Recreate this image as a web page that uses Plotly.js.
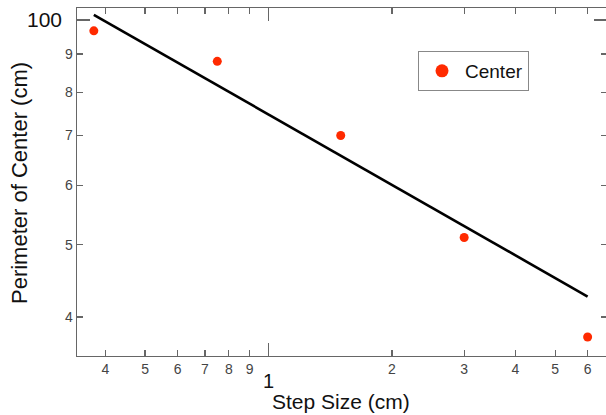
<!DOCTYPE html>
<html>
<head>
<meta charset="utf-8">
<script src="https://cdn.plot.ly/plotly-3.0.1.min.js"></script>
<style>html,body{margin:0;padding:0;overflow:hidden;background:#fff}</style>
</head>
<body>
<div id="chart" style="width:607px;height:415px"></div>
<script>
// Data (log-log)
var stepSize = [0.375, 0.75, 1.5, 3, 6];
var perimeter = [96.7, 88.0, 70.0, 51.1, 37.6];
var fitX = [0.375, 6];
var fitY = [101.6, 42.6];
var xTickVals = [0.4, 0.5, 0.6, 0.7, 0.8, 0.9, 1, 2, 3, 4, 5, 6];
var xTickText = ['4', '5', '6', '7', '8', '9', '', '2', '3', '4', '5', '6'];
var yTickVals = [40, 50, 60, 70, 80, 90, 100];
var yTickText = ['4', '5', '6', '7', '8', '9', ''];
var xMajor = [1];
var yMajor = [100];

var FONT = 'Liberation Sans, Arial, sans-serif';
var xRange = [-0.467, 0.8254];
var yRange = [1.5497, 2.016];

var traces = [
  {x: stepSize, y: perimeter, type: 'scatter', mode: 'markers', name: 'Center',
   showlegend: false, marker: {color: '#ff2a00', size: 9}},
  {x: [null], y: [null], type: 'scatter', mode: 'markers', name: 'Center',
   showlegend: true, marker: {color: '#ff2a00', size: 13}},
  {x: fitX, y: fitY, type: 'scatter', mode: 'lines', showlegend: false,
   xaxis: 'x2', yaxis: 'y2', line: {color: '#000', width: 2.6}}
];

var axisCommon = {
  type: 'log', showgrid: false, zeroline: false, ticks: 'inside', ticklen: 6,
  tickwidth: 1.2, tickcolor: '#666', showline: true, linecolor: '#666',
  linewidth: 1.3, mirror: 'ticks', tickmode: 'array',
  tickfont: {family: FONT, size: 14, color: '#444'}
};

var layout = {
  width: 607, height: 415,
  margin: {l: 77, r: 0, t: 8, b: 59},
  paper_bgcolor: '#fff', plot_bgcolor: '#fff',
  font: {family: FONT},
  showlegend: true,
  legend: {x: (418 - 77) / 530, y: (356 - 51) / 348, xanchor: 'left', yanchor: 'top',
           bgcolor: '#fff', bordercolor: '#888', borderwidth: 1, itemwidth: 36,
           font: {family: FONT, size: 19, color: '#111'}},
  xaxis: Object.assign({}, axisCommon, {range: xRange, tickvals: xTickVals, ticktext: xTickText}),
  yaxis: Object.assign({}, axisCommon, {range: yRange, tickvals: yTickVals, ticktext: yTickText}),
  xaxis2: {type: 'log', range: xRange, overlaying: 'x', anchor: 'y2', side: 'bottom',
           showgrid: false, zeroline: false, showline: false, ticks: 'inside', ticklen: 13,
           tickwidth: 1.2, tickcolor: '#666', mirror: 'ticks', tickmode: 'array',
           tickvals: xMajor, showticklabels: false},
  yaxis2: {type: 'log', range: yRange, overlaying: 'y', anchor: 'x2', side: 'left',
           showgrid: false, zeroline: false, showline: false, ticks: 'inside', ticklen: 13,
           tickwidth: 1.2, tickcolor: '#666', mirror: 'ticks', tickmode: 'array',
           tickvals: yMajor, showticklabels: false},
  annotations: [
    {text: '1', xref: 'x', yref: 'paper', x: Math.log10(xMajor[0]), y: (356 - 381) / 348,
     xanchor: 'center', yanchor: 'middle', showarrow: false,
     font: {family: FONT, size: 20, color: '#111'}},
    {text: '100', xref: 'paper', yref: 'y', x: (64 - 77) / 530, y: Math.log10(yMajor[0]),
     xanchor: 'right', yanchor: 'middle', showarrow: false,
     font: {family: FONT, size: 21, color: '#111'}},
    {text: 'Step Size (cm)', xref: 'paper', yref: 'paper', x: (341 - 77) / 530, y: (356 - 401) / 348,
     xanchor: 'center', yanchor: 'middle', showarrow: false,
     font: {family: FONT, size: 21, color: '#111'}},
    {text: 'Perimeter of Center (cm)', xref: 'paper', yref: 'paper', x: (19 - 77) / 530, y: (356 - 183) / 348,
     xanchor: 'center', yanchor: 'middle', textangle: -90, showarrow: false,
     font: {family: FONT, size: 22, color: '#111'}}
  ]
};

Plotly.newPlot('chart', traces, layout, {displayModeBar: false, staticPlot: true});
</script>
</body>
</html>
